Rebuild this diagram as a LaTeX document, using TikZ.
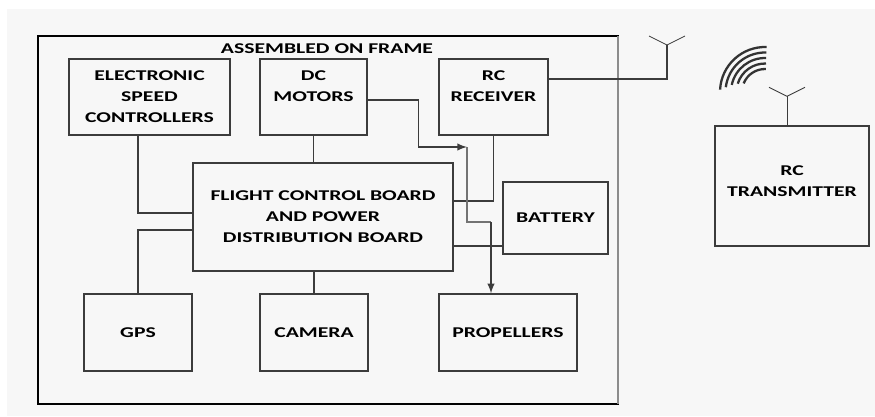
\documentclass[tikz,border=0pt]{standalone}
\usepackage{fontspec}
\setmainfont{Carlito}[FakeStretch=1.45]
\usetikzlibrary{positioning,calc}

\definecolor{bg}{RGB}{247,247,247}
\definecolor{wirecol}{RGB}{60,60,60}

\begin{document}
\begin{tikzpicture}[x=0.02cm,y=-0.02cm]

\tikzstyle{block}=[draw=wirecol,line width=0.8pt,align=center,inner sep=0pt,font=\fontsize{8.5}{12}\selectfont\bfseries]
\tikzstyle{wire}=[draw=wirecol,line width=0.9pt]
\tikzstyle{aerial}=[draw=wirecol,line width=0.5pt]

   %canvas
   \useasboundingbox (0,0) rectangle (875,416);
   \fill[bg] (7,9) rectangle (875,416);

   %frame
   \draw[black,line width=0.6pt] (38,36) rectangle (618,404);
   \draw[black!45,line width=1.2pt] (618,36) -- (618,404);
   \node (frame_label) at (327,49) [font=\fontsize{8.5}{12}\selectfont\bfseries] {ASSEMBLED ON FRAME};

   %blocks
   \node (esc) at (149.5,97) [block,minimum width=3.22cm,minimum height=1.52cm] {ELECTRONIC\\SPEED\\CONTROLLERS};
   \node (dc) at (313.5,97) [block,minimum width=2.14cm,minimum height=1.52cm] {DC\\MOTORS\\~};
   \node (rcr) at (493.5,97) [block,minimum width=2.18cm,minimum height=1.52cm] {RC\\RECEIVER\\~};
   \node (fcb) at (323,217) [block,minimum width=5.2cm,minimum height=2.16cm] {FLIGHT CONTROL BOARD\\AND POWER\\DISTRIBUTION BOARD};
   \node (bat) at (555.5,218) [block,minimum width=2.1cm,minimum height=1.44cm] {BATTERY};
   \node (gps) at (138,332.5) [block,minimum width=2.16cm,minimum height=1.54cm] {GPS};
   \node (cam) at (314,332.5) [block,minimum width=2.16cm,minimum height=1.54cm] {CAMERA};
   \node (prop) at (508,332.5) [block,minimum width=2.76cm,minimum height=1.54cm] {PROPELLERS};
   \node (rct) at (792,186) [block,minimum width=3.08cm,minimum height=2.4cm] {RC\\TRANSMITTER\\[-6pt]};

   %links to flight board
   \draw[wire] (esc.south -| gps.north) |- ([yshift=0.08cm]fcb.west);
   \draw[wire] (gps.north) |- ([yshift=-0.26cm]fcb.west);
   \draw[wire] (dc.south) -- (dc.south |- fcb.north);
   \draw[wire] (cam.north) -- (cam.north |- fcb.south);
   \draw[wire] (rcr.south) |- ([yshift=0.32cm]fcb.east);
   \draw[wire] ([yshift=-0.58cm]fcb.east) -- ([yshift=-0.58cm]fcb.east -| bat.west);

   %motors to propellers
   \coordinate (hub) at (467,147);
   \coordinate (split) at (491,222);
   \draw[wire,-latex] ([yshift=-0.06cm]dc.east) -- ++(51,0) |- (hub);
   \draw[wire,draw=black!55,line width=1.3pt] (hub) |- (split);
   \draw[wire,-latex] (split) -- (split |- prop.north);

   %receiver aerial
   \coordinate (rx_ant) at (667,45);
   \draw[wire] ([yshift=0.36cm]rcr.east) -| (rx_ant);
   \draw[aerial] (rx_ant) -- ++(-18,-9);
   \draw[aerial] (rx_ant) -- ++(18,-9);

   %transmitter aerial
   \draw[aerial] ([xshift=-0.1cm]rct.north) -- ++(0,-29) coordinate (tx_ant);
   \draw[aerial] (tx_ant) -- ++(-18,-9);
   \draw[aerial] (tx_ant) -- ++(18,-9);

   %radio waves
   \coordinate (wave) at (765,92);
   \foreach \r/\a in {0.46/158,0.57/163,0.68/168,0.79/173,0.9/177}
      \draw[line width=1.3pt,black!80] ([shift={(\a:\r cm)}]wave) arc (\a:88:\r cm);

\end{tikzpicture}
\end{document}
